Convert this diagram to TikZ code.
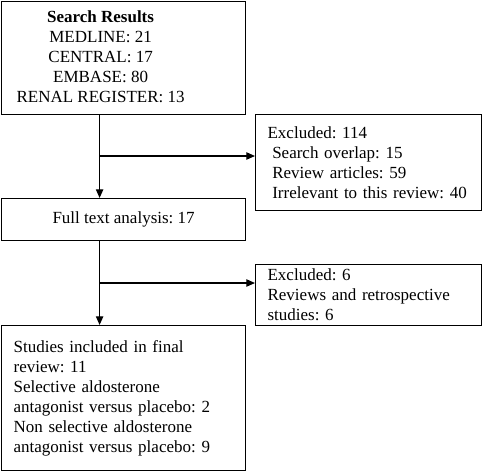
\documentclass[tikz,border=0pt]{standalone}
\usepackage{fontspec}
\setmainfont{Liberation Serif}
\usetikzlibrary{arrows.meta}
\frenchspacing

\begin{document}
\begin{tikzpicture}[
        x=0.75pt, y=-0.75pt,
        stage/.style={rectangle, draw, line width=0.9pt, anchor=north west, inner xsep=0pt, inner ysep=2pt, font=\fontsize{12.75}{15}\selectfont},
        centred/.style={stage, align=center, minimum width=183pt},
        listed/.style={stage, align=left, inner xsep=9pt, text width=#1},
        flow/.style={-{Triangle[length=6.5pt, width=5.5pt]}, line width=0.9pt},
        trunk/.style={line width=0.9pt}
        ]

        \useasboundingbox (0,0) rectangle (482,472);

        % Boxes
        \node (search) [centred, minimum height=84.75pt] at (1,1)
            {\begin{tabular}{@{}c@{}}\textbf{Search Results}\\ MEDLINE: 21\\ CENTRAL: 17\\ EMBASE: 80\\ RENAL REGISTER: 13\end{tabular}\hspace*{34.5pt}};
        \node (excluded1) [listed=151.5pt, minimum height=72pt] at (255,114)
            {Excluded: 114\\ \hspace*{3.5pt}Search overlap: 15\\ \hspace*{3.5pt}Review articles: 59\\ \hspace*{3.5pt}Irrelevant to this review: 40};
        \node (fulltext) [centred, minimum height=31.5pt] at (1,198) {Full text analysis: 17};
        \node (excluded2) [listed=151.5pt, minimum height=45.75pt] at (255,264)
            {Excluded: 6\\ Reviews and retrospective\\ studies: 6};
        \node (included) [listed=165pt, minimum height=108.75pt] at (1,325)
            {Studies included in final\\ review: 11\\ Selective aldosterone\\ antagonist versus placebo: 2\\ Non selective aldosterone\\ antagonist versus placebo: 9};

        % Branch points
        \coordinate (split1) at (99,156);
        \coordinate (split2) at (99,283);

        % Arrows
        \draw [flow] ([xshift=-18pt]search.south) -- ([xshift=-18pt]fulltext.north);
        \draw [flow] (split1) -- (split1 -| excluded1.west);
        \draw [flow] ([xshift=-18pt]fulltext.south) -- ([xshift=-18pt]included.north);
        \draw [flow] (split2) -- (split2 -| excluded2.west);

    \end{tikzpicture}
\end{document}
